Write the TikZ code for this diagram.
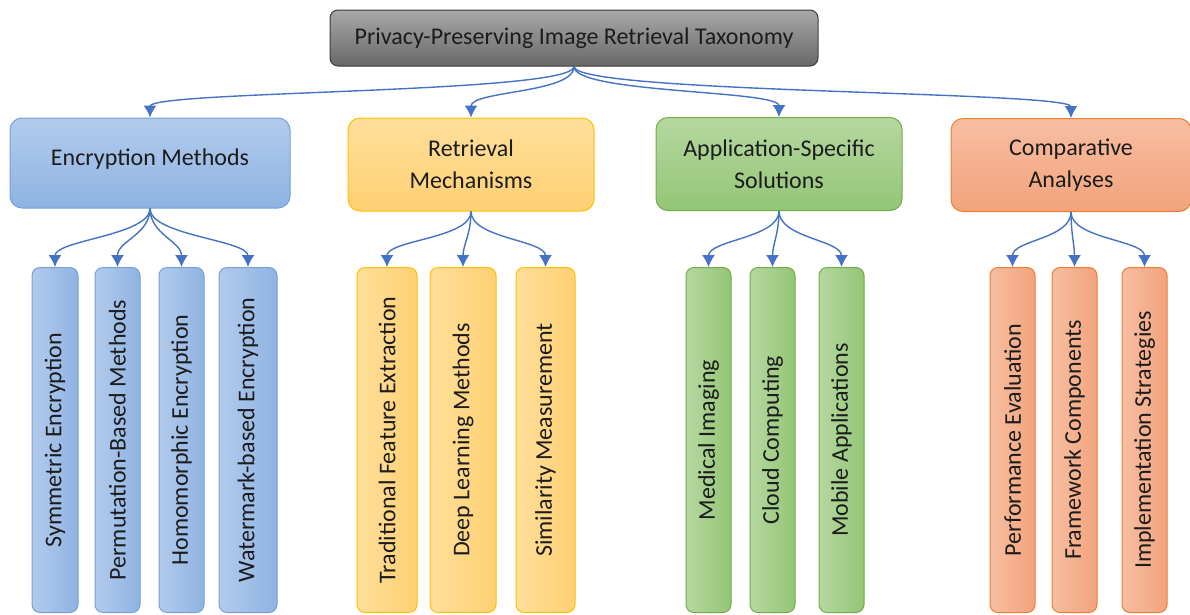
\documentclass[tikz,border=0pt]{standalone}
\usepackage{fontspec}
\setmainfont{Carlito}
\usepackage{tikz}
\usetikzlibrary{arrows.meta,positioning}

\definecolor{linkblue}{RGB}{68,114,196}
\definecolor{inktext}{RGB}{28,28,28}
\definecolor{blueA}{RGB}{178,203,236}
\definecolor{blueB}{RGB}{143,179,226}
\definecolor{blueE}{RGB}{116,161,218}
\definecolor{goldA}{RGB}{255,223,155}
\definecolor{goldB}{RGB}{255,208,115}
\definecolor{goldE}{RGB}{255,192,0}
\definecolor{greenA}{RGB}{181,216,160}
\definecolor{greenB}{RGB}{148,197,118}
\definecolor{greenE}{RGB}{112,173,71}
\definecolor{salmonA}{RGB}{247,190,162}
\definecolor{salmonB}{RGB}{242,163,124}
\definecolor{salmonE}{RGB}{237,125,49}
\definecolor{grayA}{RGB}{168,168,168}
\definecolor{grayB}{RGB}{104,104,104}
\definecolor{grayE}{RGB}{58,58,58}

\begin{document}
\begin{tikzpicture}[x=1pt,y=-1pt,
	every node/.style={font=\fontsize{24}{32}\selectfont,text=inktext,inner sep=0pt,align=center},
	root node/.style={draw=grayE,line width=1pt,rounded corners=8pt,top color=grayA,bottom color=grayB,
		minimum width=488pt,minimum height=56pt},
	cat node/.style={draw=#1E,line width=1pt,rounded corners=12pt,top color=#1A,bottom color=#1B,
		minimum height=93pt},
	leaf node/.style={draw=#1E,line width=1pt,rounded corners=8pt,left color=#1A,right color=#1B,
		rotate=90,minimum width=345pt},
	link/.style={every edge/.style={draw=linkblue,line width=1.4pt,-{Latex[length=12pt,width=13pt]},
		out=-90,in=90,max distance=27pt}}]
	\useasboundingbox (0,0) rectangle (1190,614);

	\node[root node] (root) at (574,38) {Privacy-Preserving Image Retrieval Taxonomy};

	\node[cat node=blue,minimum width=280pt,minimum height=90pt] (enc) at (150,163) {Encryption Methods\rule[-12pt]{0pt}{12pt}};
	\node[cat node=gold,minimum width=246pt] (ret) at (471,164.5) {Retrieval\\Mechanisms};
	\node[cat node=green,minimum width=246pt] (app) at (779,164) {Application-Specific\\Solutions};
	\node[cat node=salmon,minimum width=240pt] (cmp) at (1071,165) {Comparative\\Analyses};

	% encryption methods
	\node[leaf node=blue,minimum height=46pt] (sym) at (55,440) {Symmetric Encryption};
	\node[leaf node=blue,minimum height=45pt] (perm) at (117.5,440) {Permutation-Based Methods};
	\node[leaf node=blue,minimum height=45pt] (homo) at (181.5,440) {Homomorphic Encryption};
	\node[leaf node=blue,minimum height=58pt] (wmk) at (248,440) {Watermark-based Encryption};

	% retrieval mechanisms
	\node[leaf node=gold,minimum height=60pt] (trad) at (387,440) {Traditional Feature Extraction};
	\node[leaf node=gold,minimum height=66pt] (deep) at (463,440) {Deep Learning Methods};
	\node[leaf node=gold,minimum height=59pt] (sim) at (545.5,440) {Similarity Measurement};

	% application-specific solutions
	\node[leaf node=green,minimum height=45pt] (med) at (708.5,440) {Medical Imaging};
	\node[leaf node=green,minimum height=45pt] (cloud) at (772.5,440) {Cloud Computing};
	\node[leaf node=green,minimum height=45pt] (mob) at (841.5,440) {Mobile Applications};

	% comparative analyses
	\node[leaf node=salmon,minimum height=45pt] (perf) at (1012.5,440) {Performance Evaluation};
	\node[leaf node=salmon,minimum height=45pt] (frame) at (1074.5,440) {Framework Components};
	\node[leaf node=salmon,minimum height=45pt] (impl) at (1144.5,440) {Implementation Strategies};

	\path[link]
	(root.south) edge (enc.north)
	edge (ret.north)
	edge (app.north)
	edge (cmp.north)
	(enc.south) edge (sym.east)
	edge (perm.east)
	edge (homo.east)
	edge (wmk.east)
	(ret.south) edge (trad.east)
	edge (deep.east)
	edge (sim.east)
	(app.south) edge (med.east)
	edge (cloud.east)
	edge (mob.east)
	(cmp.south) edge (perf.east)
	edge (frame.east)
	edge (impl.east);
\end{tikzpicture}
\end{document}
